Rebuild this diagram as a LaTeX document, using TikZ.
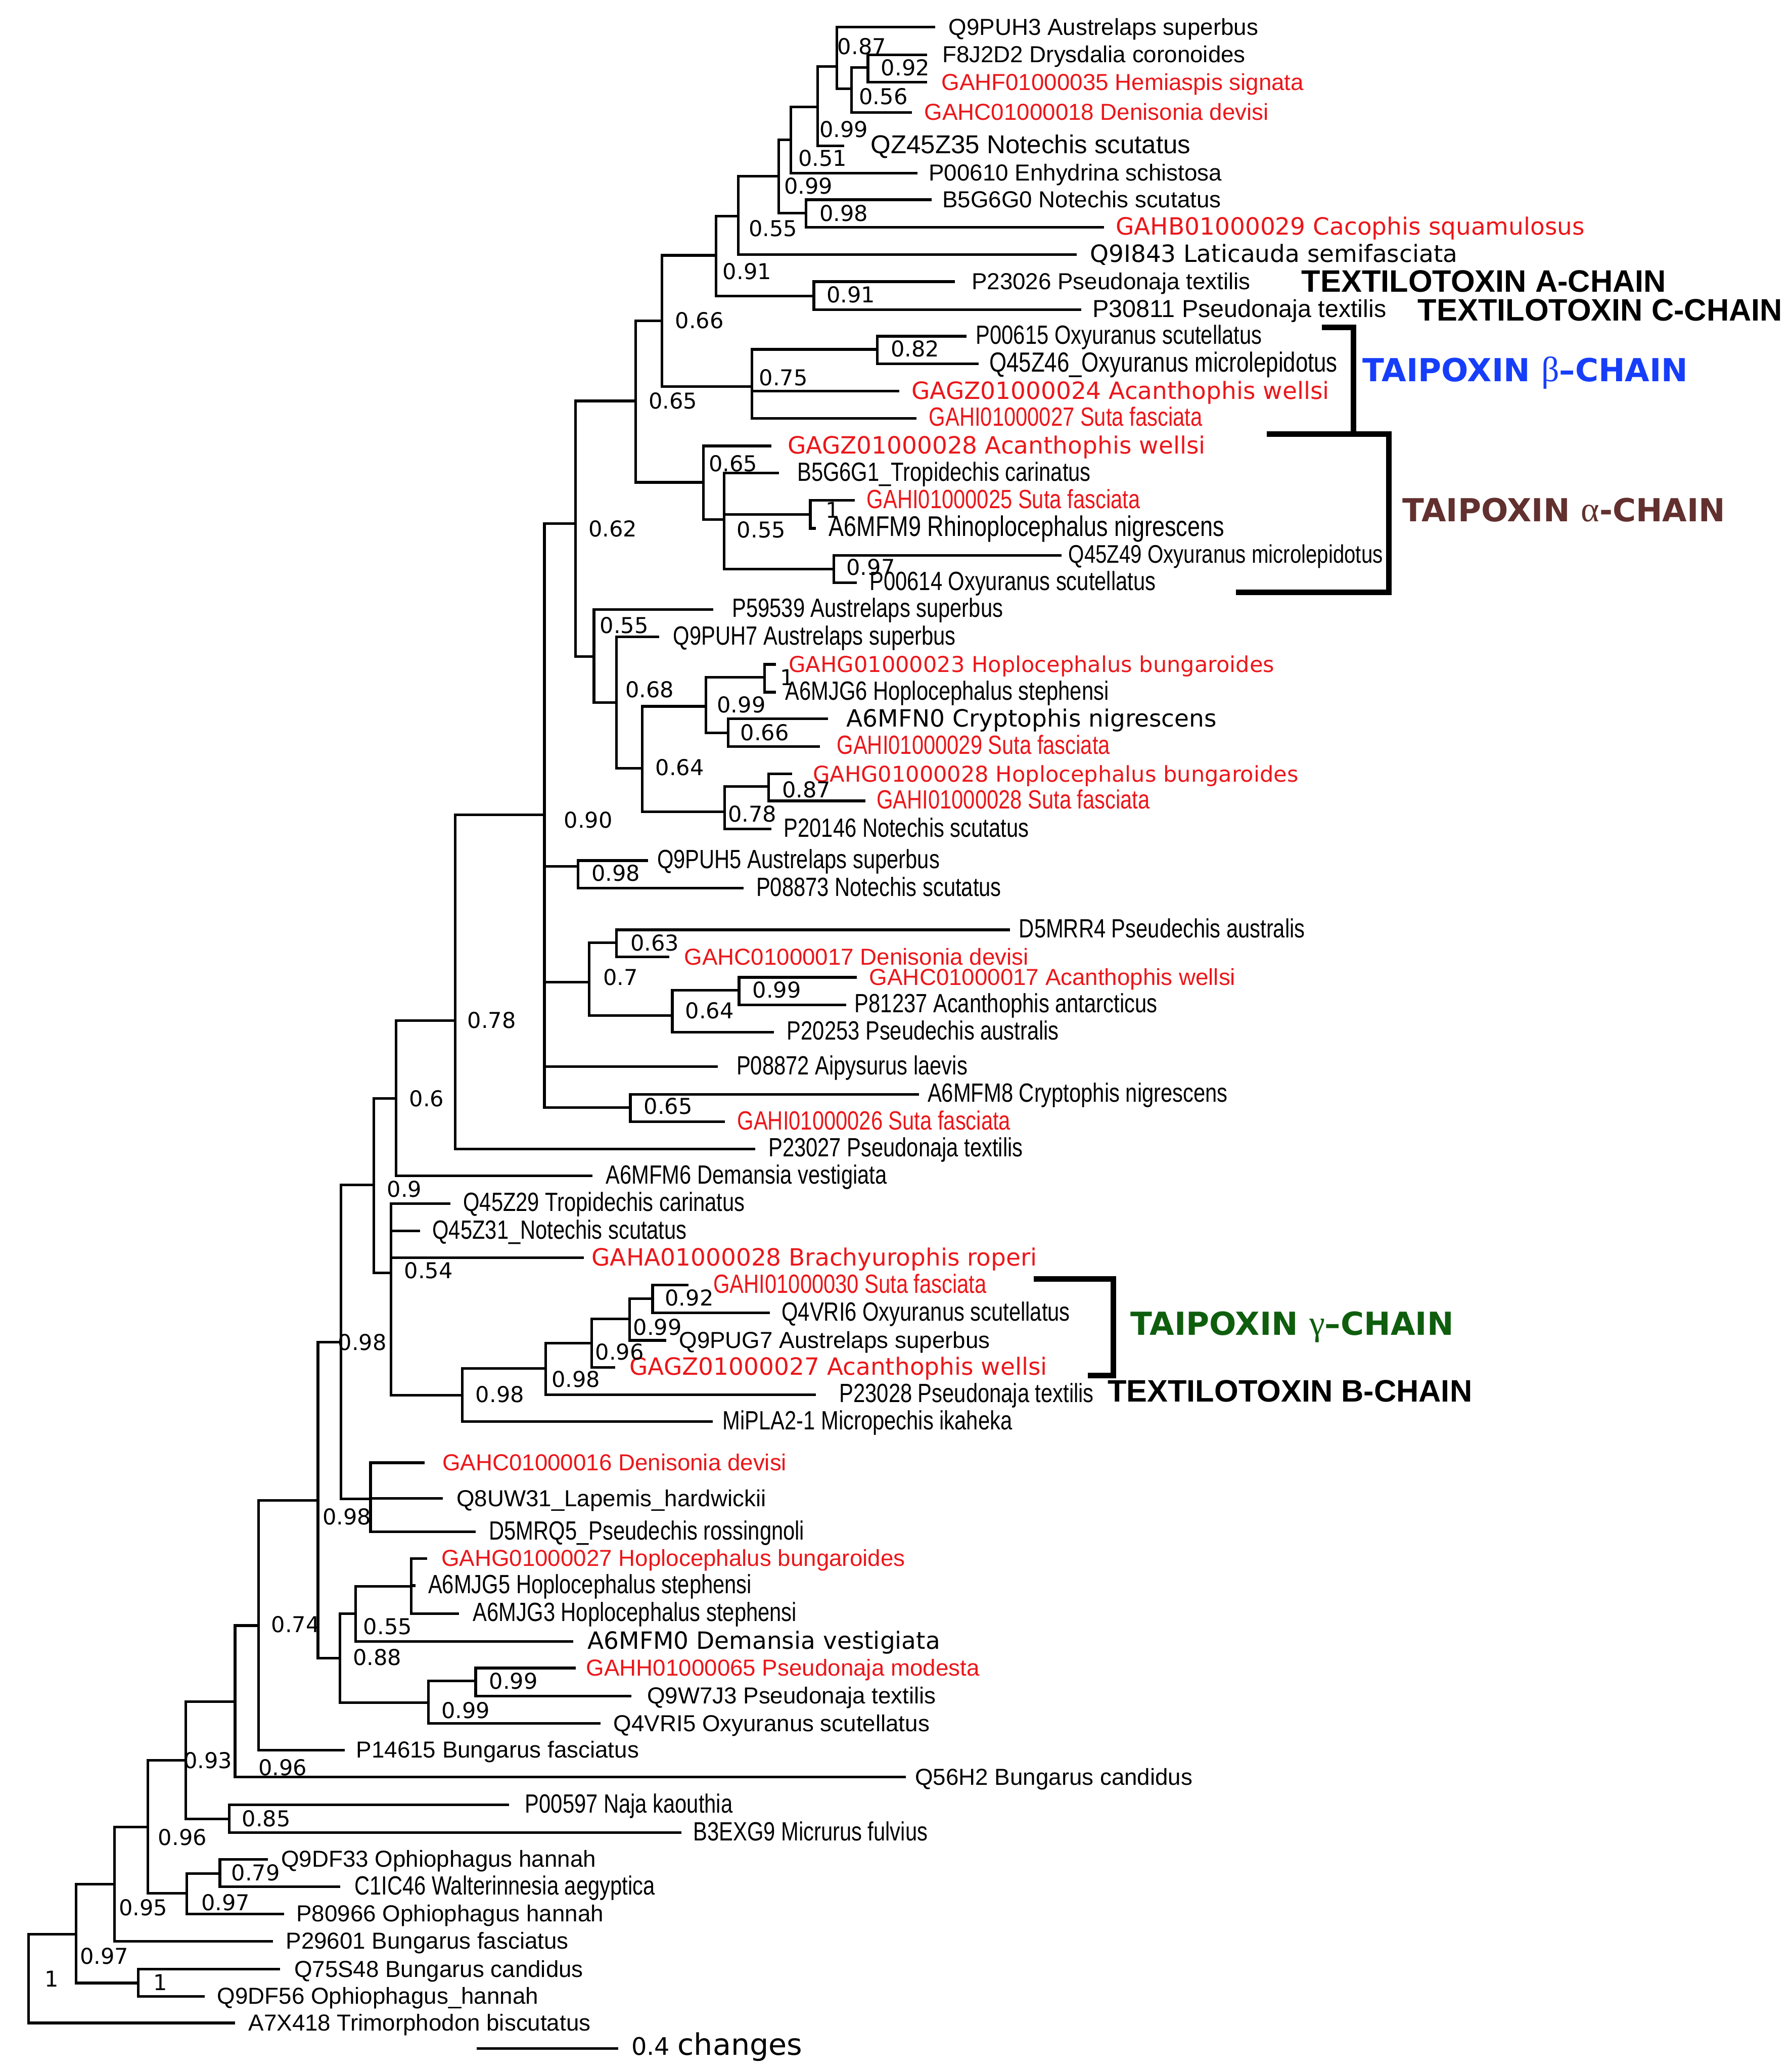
\documentclass[tikz,border=0pt]{standalone}
\usepackage{fontspec}
\setmainfont{Liberation Sans}
\newfontfamily\narrowfont[FakeStretch=0.8]{Liberation Sans}
\newfontfamily\widefont{DejaVu Sans}
\newfontfamily\greekfont{Liberation Serif}
\definecolor{newseqred}{RGB}{235,22,26}
\definecolor{betablue}{RGB}{22,62,250}
\definecolor{alphabrown}{RGB}{98,48,46}
\definecolor{gammagreen}{RGB}{14,94,14}
\tikzset{
  branch/.style={line width=0.5mm},
  bracket/.style={line width=1.05mm},
  tip/.style={anchor=west, inner sep=0pt, outer sep=0pt, text height=3.15mm, text depth=0.2mm, font=\fontsize{12.45}{14}\selectfont},
  tipn/.style={tip, font=\narrowfont\fontsize{14.2}{16}\selectfont},
  tipw/.style={tip, font=\widefont\fontsize{12.8}{14}\selectfont},
  newseq/.style={text=newseqred},
  supp/.style={anchor=west, inner sep=0pt, outer sep=0pt, text height=3mm, text depth=0pt, font=\widefont\fontsize{11.74}{13}\selectfont},
  chain/.style={anchor=base west, inner sep=0pt, font=\bfseries\fontsize{16.7}{18}\selectfont},
  taipoxin/.style={anchor=base west, inner sep=0pt, font=\widefont\bfseries\fontsize{17.1}{19}\selectfont}
}
\begin{document}
\begin{tikzpicture}[x=0.25mm, y=-0.25mm]
\useasboundingbox (0,0) rectangle (1357,1568);
\fill[white] (0,0) rectangle (1357,1568);

% internal nodes (x of the vertical, y where the parent branch joins)
\foreach \n/\x/\y in {nA/633.8/50.2, nB/644.7/67.1, nC/657.3/51.2, nD/619.3/81.1,
  nE/598.9/105.8, nF/589.8/133.5, nG/610.4/161.3, nH/559/163.5, nI/542.1/193.3,
  nJ/616.3/224, nK/501.3/243, nM/569.4/292.8, nN/664.5/264.5, nL/481.3/303.6,
  nO/532.7/365.2, nP/548.3/393.3, nQ/613.6/389.4, nR/631.3/430.9, nS/435.7/396.5,
  nT/449.8/497.2, nV/466.7/531.9, nW/486.5/581.8, nX/534.5/534.8, nXa/578.9/512.8,
  nXb/551.3/555, nY/548.7/614.5, nYa/582.1/595.5, nU/412.3/617, nZ/437.8/656,
  nAB/446.1/743.6, nBD/466.7/713.8, nBE/509.1/768.9, nBF/559.7/749.8, nAC/477.4/838.5,
  nAA/344.7/772.6, nAD/299.9/831.6, nAE/283/897.2, nAF/296.2/963.7, nAG/350/1056.3,
  nAJ/413.3/1036.2, nAK/448.1/1016.8, nAL/476.8/998.7, nAM/494.2/983.3,
  nAH/258.3/1016.2, nAN/280.6/1134.7, nAI/240.8/1135.9, nAO/257.3/1255.4,
  nAR/269.3/1221.6, nAT/311.4/1201, nAS/324.3/1289.2, nAU/360.2/1272.7,
  nAP/195.7/1230.7, nAQ/178/1288.4, nAV/140.8/1332.8, nAW/173.7/1377.1,
  nAX/112/1383.2, nAY/141.4/1433.3, nBA/166.5/1418.4, nAZ/86.6/1426.6,
  nBB/57.7/1464.5, nBC/104.8/1501.4, root/21.6/1498}
  \coordinate (\n) at (\x,\y);

% branch tips
\foreach \n/\x/\y in {e1/708.2/20.6, e2/702/41.4, e3/702/62.3, e4/690.7/85.1,
  e5/639.3/110.4, e6/694.9/131, e7/705.5/151.2, e8/836/172, e9/815.5/192.6,
  e10/723/213.2, e11/818.9/234.4, e12/731.8/254.6, e13/741.2/275.5, e14/680.9/296.2,
  e15/694/316.8, e16/584.1/337.6, e17/589.8/358.2, e18/647.4/378.9, e19/617.9/400,
  e20/803.8/420.4, e21/648.7/441.2, e22/540/461.4, e23/499.3/482.2, e24/587.5/503,
  e25/587.5/524.1, e26/626.9/544.2, e27/621/565.1, e28/600/586, e29/655.2/606.4,
  e30/584/627.7, e31/490.6/651.5, e32/563.1/672.5, e33/765/704, e34/506.9/724.6,
  e35/649/740, e36/641/760.7, e37/586/781.4, e38/543.6/807.6, e39/695.9/828.5,
  e40/549/849.3, e41/572/869.9, e42/448.8/890.3, e43/340.9/911.2, e44/318.3/932,
  e45/442.3/952.3, e46/521.5/973, e47/583.2/994, e48/504.4/1014.8, e49/466/1035.3,
  e50/618/1056, e51/539.8/1076.4, e52/321.6/1107.5, e53/335.5/1134.5,
  e54/360.4/1159.8, e55/323.5/1180, e56/314.6/1200.5, e57/347.6/1221.6,
  e58/434.1/1242.7, e59/436/1262.9, e60/478.1/1284, e61/454.8/1304.9, e62/261/1325,
  e63/686/1345.5, e64/385.3/1366.5, e65/516/1387.6, e66/202.9/1407.8,
  e67/257.7/1428.5, e68/215/1449, e69/206.9/1469.8, e70/212.1/1490.9,
  e71/155/1511.4, e72/178.1/1531.6}
  \coordinate (\n) at (\x,\y);

% branches
\foreach \p/\c in {nC/e2, nC/e3, nB/nC, nB/e4, nA/e1, nA/nB, nD/nA, nD/e5, nE/nD, nE/e6,
  nG/e7, nG/e8, nF/nE, nF/nG, nH/nF, nH/e9, nJ/e10, nJ/e11, nI/nH, nI/nJ, nN/e12, nN/e13,
  nM/nN, nM/e14, nM/e15, nK/nI, nK/nM, nQ/e18, nQ/e19, nR/e20, nR/e21, nP/e17, nP/nQ,
  nP/nR, nO/e16, nO/nP, nL/nK, nL/nO, nXa/e24, nXa/e25, nXb/e26, nXb/e27, nX/nXa, nX/nXb,
  nYa/e28, nYa/e29, nY/nYa, nY/e30, nW/nX, nW/nY, nV/e23, nV/nW, nT/e22, nT/nV, nS/nL,
  nS/nT, nZ/e31, nZ/e32, nBD/e33, nBD/e34, nBF/e35, nBF/e36, nBE/nBF, nBE/e37,
  nAB/nBD, nAB/nBE, nAC/e39, nAC/e40, nU/nS, nU/nZ, nU/nAB, nU/e38, nU/nAC, nAA/nU,
  nAA/e41, nAD/nAA, nAD/e42, nAM/e46, nAM/e47, nAL/nAM, nAL/e48, nAK/nAL, nAK/e49,
  nAJ/nAK, nAJ/e50, nAG/nAJ, nAG/e51, nAF/e43, nAF/e44, nAF/e45, nAF/nAG, nAE/nAD,
  nAE/nAF, nAN/e52, nAN/e53, nAN/e54, nAH/nAE, nAH/nAN, nAT/e55, nAT/e56, nAT/e57,
  nAR/nAT, nAR/e58, nAU/e59, nAU/e60, nAS/nAU, nAS/e61, nAO/nAR, nAO/nAS, nAI/nAH,
  nAI/nAO, nAP/nAI, nAP/e62, nAQ/nAP, nAQ/e63, nAW/e64, nAW/e65, nAV/nAQ, nAV/nAW,
  nBA/e66, nBA/e67, nAY/nBA, nAY/e68, nAX/nAV, nAX/nAY, nAZ/nAX, nAZ/e69, nBC/e70,
  nBC/e71, nBB/nAZ, nBB/nBC, root/nBB, root/e72}
  \draw[branch] (\p) |- (\c);

% taxon labels
\node[tip] (t1) at (718.4,20.6) {Q9PUH3 Austrelaps superbus};
\node[tip] (t2) at (713.6,41.4) {F8J2D2 Drysdalia coronoides};
\node[tip, newseq] (t3) at (713,62.3) {GAHF01000035 Hemiaspis signata};
\node[tip, newseq] (t4) at (700.1,85.1) {GAHC01000018 Denisonia devisi};
\node[tip, font=\fontsize{13.9}{15}\selectfont] (t5) at (659.4,110.4) {QZ45Z35 Notechis scutatus};
\node[tip] (t6) at (703.4,131) {P00610 Enhydrina schistosa};
\node[tip] (t7) at (713.6,151.2) {B5G6G0 Notechis scutatus};
\node[tipw, newseq] (t8) at (845,172) {GAHB01000029 Cacophis squamulosus};
\node[tipw] (t9) at (825.5,192.6) {Q9I843 Laticauda semifasciata};
\node[tip] (t10) at (735.8,213.2) {P23026 Pseudonaja textilis};
\node[tip, font=\fontsize{13.2}{15}\selectfont] (t11) at (827.4,234.4) {P30811 Pseudonaja textilis};
\node[tipn] (t12) at (739.1,254.6) {P00615 Oxyuranus scutellatus};
\node[tipn, font=\narrowfont\fontsize{14.9}{16}\selectfont] (t13) at (749.3,275.5) {Q45Z46\_Oxyuranus microlepidotus};
\node[tipw, newseq] (t14) at (690.3,296.2) {GAGZ01000024 Acanthophis wellsi};
\node[tipn, newseq] (t15) at (703.6,316.8) {GAHI01000027 Suta fasciata};
\node[tipw, newseq] (t16) at (596.5,337.6) {GAGZ01000028 Acanthophis wellsi};
\node[tipn] (t17) at (603.8,358.2) {B5G6G1\_Tropidechis carinatus};
\node[tipn, newseq] (t18) at (656.5,378.9) {GAHI01000025 Suta fasciata};
\node[tipn, font=\narrowfont\fontsize{15.3}{17}\selectfont] (t19) at (627.8,400) {A6MFM9 Rhinoplocephalus nigrescens};
\node[tipn, font=\narrowfont\fontsize{13.7}{15}\selectfont] (t20) at (809.2,420.4) {Q45Z49 Oxyuranus microlepidotus};
\node[tipn] (t21) at (658.6,441.2) {P00614 Oxyuranus scutellatus};
\node[tipn] (t22) at (554.5,461.4) {P59539 Austrelaps superbus};
\node[tipn] (t23) at (509.9,482.2) {Q9PUH7 Austrelaps superbus};
\node[tipw, newseq, font=\widefont\fontsize{11.74}{13}\selectfont] (t24) at (597.4,503) {GAHG01000023 Hoplocephalus bungaroides};
\node[tipn] (t25) at (594.7,524.1) {A6MJG6 Hoplocephalus stephensi};
\node[tipw] (t26) at (641.1,544.2) {A6MFN0 Cryptophis nigrescens};
\node[tipn, newseq] (t27) at (633.8,565.1) {GAHI01000029 Suta fasciata};
\node[tipw, newseq, font=\widefont\fontsize{11.74}{13}\selectfont] (t28) at (615.6,586) {GAHG01000028 Hoplocephalus bungaroides};
\node[tipn, newseq] (t29) at (663.9,606.4) {GAHI01000028 Suta fasciata};
\node[tipn] (t30) at (593.6,627.7) {P20146 Notechis scutatus};
\node[tipn] (t31) at (497.7,651.5) {Q9PUH5 Austrelaps superbus};
\node[tipn] (t32) at (572.7,672.5) {P08873 Notechis scutatus};
\node[tipn] (t33) at (771.7,704) {D5MRR4 Pseudechis australis};
\node[tip, newseq] (t34) at (518.2,724.6) {GAHC01000017 Denisonia devisi};
\node[tip, newseq] (t35) at (658.4,740) {GAHC01000017 Acanthophis wellsi};
\node[tipn] (t36) at (647.3,760.7) {P81237 Acanthophis antarcticus};
\node[tipn] (t37) at (596,781.4) {P20253 Pseudechis australis};
\node[tipn] (t38) at (557.8,807.6) {P08872 Aipysurus laevis};
\node[tipn] (t39) at (702.5,828.5) {A6MFM8 Cryptophis nigrescens};
\node[tipn, newseq] (t40) at (558.4,849.3) {GAHI01000026 Suta fasciata};
\node[tipn] (t41) at (582,869.9) {P23027 Pseudonaja textilis};
\node[tipn] (t42) at (458.7,890.3) {A6MFM6 Demansia vestigiata};
\node[tipn] (t43) at (350.8,911.2) {Q45Z29 Tropidechis carinatus};
\node[tipn] (t44) at (327.5,932) {Q45Z31\_Notechis scutatus};
\node[tipw, newseq] (t45) at (448.1,952.3) {GAHA01000028 Brachyurophis roperi};
\node[tipn, newseq] (t46) at (540.3,973) {GAHI01000030 Suta fasciata};
\node[tipn] (t47) at (592,994) {Q4VRI6 Oxyuranus scutellatus};
\node[tip] (t48) at (514.3,1014.8) {Q9PUG7 Austrelaps superbus};
\node[tipw, newseq] (t49) at (476.8,1035.3) {GAGZ01000027 Acanthophis wellsi};
\node[tipn] (t50) at (635.7,1056) {P23028 Pseudonaja textilis};
\node[tipn] (t51) at (547.3,1076.4) {MiPLA2-1 Micropechis ikaheka};
\node[tip, newseq] (t52) at (335,1107.5) {GAHC01000016 Denisonia devisi};
\node[tip] (t53) at (345.7,1134.5) {Q8UW31\_Lapemis\_hardwickii};
\node[tipn] (t54) at (370.4,1159.8) {D5MRQ5\_Pseudechis rossingnoli};
\node[tip, newseq] (t55) at (334.2,1180) {GAHG01000027 Hoplocephalus bungaroides};
\node[tipn] (t56) at (324.3,1200.5) {A6MJG5 Hoplocephalus stephensi};
\node[tipn] (t57) at (358.3,1221.6) {A6MJG3 Hoplocephalus stephensi};
\node[tipw] (t58) at (445,1242.7) {A6MFM0 Demansia vestigiata};
\node[tip, newseq] (t59) at (444,1262.9) {GAHH01000065 Pseudonaja modesta};
\node[tip] (t60) at (490,1284) {Q9W7J3 Pseudonaja textilis};
\node[tip] (t61) at (464.7,1304.9) {Q4VRI5 Oxyuranus scutellatus};
\node[tip] (t62) at (269.8,1325) {P14615 Bungarus fasciatus};
\node[tip] (t63) at (693,1345.5) {Q56H2 Bungarus candidus};
\node[tipn] (t64) at (397.7,1366.5) {P00597 Naja kaouthia};
\node[tipn] (t65) at (525,1387.6) {B3EXG9 Micrurus fulvius};
\node[tip] (t66) at (213,1407.8) {Q9DF33 Ophiophagus hannah};
\node[tipn] (t67) at (268.4,1428.5) {C1IC46 Walterinnesia aegyptica};
\node[tip] (t68) at (224.5,1449) {P80966 Ophiophagus hannah};
\node[tip] (t69) at (216.5,1469.8) {P29601 Bungarus fasciatus};
\node[tip] (t70) at (222.8,1490.9) {Q75S48 Bungarus candidus};
\node[tip] (t71) at (164.5,1511.4) {Q9DF56 Ophiophagus\_hannah};
\node[tip] (t72) at (188.2,1531.6) {A7X418 Trimorphodon biscutatus};

% support values
\foreach \n/\x/\y/\v in {s1/634.3/35.3/0.87, s2/667.2/51.2/0.92, s3/650.6/72.9/0.56,
  s4/620.6/98.1/0.99, s5/604.5/119.8/0.51, s6/593.8/140.7/0.99, s7/620.6/161.3/0.98,
  s8/567/173.1/0.55, s9/547.4/205.6/0.91, s10/626/223.2/0.91, s11/511.3/242.6/0.66,
  s12/674.6/264.2/0.82, s13/574.9/285.9/0.75, s14/491.2/303.6/0.65, s15/536.8/350.8/0.65,
  s16/625.4/386.3/1, s17/558.1/401/0.55, s18/641/429.3/0.97, s19/445.6/400.3/0.62,
  s20/454.3/473.6/0.55, s21/473.7/522.1/0.68, s22/543/533.7/0.99, s23/591/512.8/1,
  s24/560.7/554.6/0.66, s25/496.4/581.2/0.64, s26/592.3/597.9/0.87, s27/551.3/616.4/0.78,
  s28/427.1/620.8/0.90, s29/448/661/0.98, s30/477.4/714/0.63, s31/456.8/740/0.7,
  s32/569.9/749.4/0.99, s33/519/765/0.64, s34/487.6/837.4/0.65, s35/354/772.6/0.78,
  s36/310/831.6/0.6, s37/293.1/900.3/0.9, s38/306.1/962.1/0.54, s39/256/1016.2/0.98,
  s40/503.6/982.6/0.92, s41/479.5/1004.7/0.99, s42/450.8/1023.5/0.96, s43/417.8/1044.2/0.98,
  s44/360.2/1055.6/0.98, s45/244.4/1148.2/0.98, s46/205.5/1229.9/0.74, s47/267.2/1254.6/0.88,
  s48/275.2/1231.5/0.55, s49/370.4/1272.7/0.99, s50/334.2/1295/0.99, s51/195.7/1338.1/0.96,
  s52/139/1332.8/0.93, s53/183.3/1376.7/0.85, s54/119.8/1391.1/0.96, s55/175.2/1417.8/0.79,
  s56/152.4/1440.3/0.97, s57/90/1444.2/0.95, s58/60.6/1481.2/0.97, s59/116.3/1500.9/1,
  s60/34/1498.3/1}
  \node[supp] (\n) at (\x,\y) {\v};

% toxin chains
\node[chain] (chainA) at (985.4,221) {TEXTILOTOXIN A-CHAIN};
\node[chain] (chainC) at (1073.4,243) {TEXTILOTOXIN C-CHAIN};
\node[chain] (chainB) at (838.5,1061.4) {TEXTILOTOXIN B-CHAIN};
\node[taipoxin, text=betablue] (beta) at (1031.7,288.9) {TAIPOXIN {\greekfont\mdseries\fontsize{19}{20}\selectfont β}–CHAIN};
\node[taipoxin, text=alphabrown] (alpha) at (1061.7,395) {TAIPOXIN {\greekfont\mdseries\fontsize{19}{20}\selectfont α}-CHAIN};
\node[taipoxin, text=gammagreen] (gamma) at (856,1010.9) {TAIPOXIN {\greekfont\mdseries\fontsize{19}{20}\selectfont γ}–CHAIN};

\coordinate (betatop) at (1000.9,247.7);
\coordinate (betajoin) at (1024.9,328.5);
\coordinate (alphatop) at (959.2,328.5);
\coordinate (alphacorner) at (1051.8,448.4);
\coordinate (alphabot) at (936,448.4);
\coordinate (gammatop) at (783,968.3);
\coordinate (gammacorner) at (843.1,1041.6);
\coordinate (gammabot) at (823.8,1041.6);
\draw[bracket] (betatop) -| (betajoin);
\draw[bracket] (alphatop) -| (alphacorner) -- (alphabot);
\draw[bracket] (gammatop) -| (gammacorner) -- (gammabot);

% scale bar
\coordinate (barL) at (360.8,1550.9);
\coordinate (barR) at (468,1550.9);
\draw[branch] (barL) -- (barR);
\node[anchor=base west, inner sep=0pt] (barlabel) at (478,1556)
  {{\widefont\fontsize{13}{14}\selectfont 0.4 }{\widefont\fontsize{16}{18}\selectfont changes}};

\end{tikzpicture}
\end{document}
